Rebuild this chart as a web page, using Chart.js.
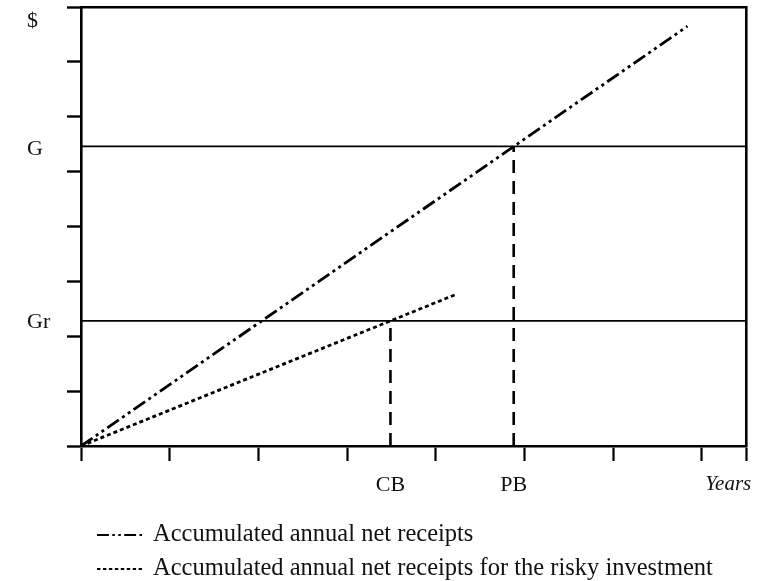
<!DOCTYPE html>
<html>
<head>
<meta charset="utf-8">
<script src="https://cdn.jsdelivr.net/npm/chart.js@4/dist/chart.umd.min.js"></script>
<style>
  html, body { margin: 0; padding: 0; background: #fff; }
  #wrap { width: 760px; height: 581px; }
</style>
</head>
<body>
<div id="wrap"><canvas id="c" width="760" height="581"></canvas></div>
<script>
// ---- data ----
const mainYears = [0, 6.84];            // accumulated annual net receipts
const mainReceipts = [0, 7.65];
const riskyYears = [0, 4.24];           // risky investment
const riskyReceipts = [0, 2.77];
const levelNames = ['G', 'Gr'];         // horizontal goal levels
const levelValues = [5.46, 2.28];
const breakNames = ['CB', 'PB'];        // break-even years
const breakYears = [3.49, 4.88];
const breakLevels = ['Gr', 'G'];
const xTickValues = [0, 1, 2, 3, 4, 5, 6, 7, 7.5];
const yTickValues = [0, 1, 2, 3, 4, 5, 6, 7, 8];
const xLabelValues = [3.49, 4.88, 7.30];
const xLabelTexts = ['CB', 'PB', 'Years'];
const yLabelValues = [7.75, 5.41, 2.26];
const yLabelTexts = ['$', 'G', 'Gr'];
const legendTexts = ['Accumulated annual net receipts',
                     'Accumulated annual net receipts for the risky investment'];

const X_MAX = 7.5, Y_MAX = 8;
const PAD_LEFT = 27;
const near = (a, b) => Math.abs(a - b) < 1e-6;
const labelFor = (vals, texts, v) => {
  for (let i = 0; i < vals.length; i++) if (near(vals[i], v)) return texts[i];
  return '';
};
const isLabelTick = (vals, v) => vals.some(t => near(t, v));

const SERIF = '"Liberation Serif", "Times New Roman", serif';

const toPts = (xs, ys) => xs.map((x, i) => ({ x: x, y: ys[i] }));

const datasets = [
  {
    label: legendTexts[0],
    data: toPts(mainYears, mainReceipts),
    borderColor: '#000', borderWidth: 2.8,
    borderDash: [14, 4, 3, 4, 3, 4], legend: true
  },
  {
    label: legendTexts[1],
    data: toPts(riskyYears, riskyReceipts),
    borderColor: '#000', borderWidth: 2.8,
    borderDash: [4, 3], legend: true
  }
];
levelValues.forEach((v, i) => datasets.push({
  label: levelNames[i],
  data: [{ x: 0, y: v }, { x: X_MAX, y: v }],
  borderColor: '#000', borderWidth: 1.7, borderDash: []
}));
breakYears.forEach((v, i) => datasets.push({
  label: breakNames[i],
  data: [{ x: v, y: 0 }, { x: v, y: levelValues[levelNames.indexOf(breakLevels[i])] }],
  borderColor: '#000', borderWidth: 2.6, borderDash: [13, 8]
}));
datasets.forEach(d => {
  d.pointRadius = 0; d.pointHoverRadius = 0; d.fill = false;
  d.tension = 0; d.clip = false; d.borderCapStyle = 'butt';
});

const legendPlugin = {
  id: 'customLegend',
  afterDraw(chart) {
    const ctx = chart.ctx;
    const items = chart.data.datasets.filter(d => d.legend);
    const rowsY = [535, 569];
    ctx.save();
    items.forEach((d, i) => {
      const y = rowsY[i];
      ctx.beginPath();
      ctx.setLineDash(d.borderDash.map(n => n * 0.85));
      ctx.lineWidth = 2;
      ctx.strokeStyle = '#000';
      ctx.moveTo(97, y);
      ctx.lineTo(142, y);
      ctx.stroke();
      ctx.setLineDash([]);
      ctx.fillStyle = '#111';
      ctx.font = '24.5px ' + SERIF;
      ctx.textBaseline = 'middle';
      ctx.textAlign = 'left';
      ctx.fillText(d.label, 153, y);
    });
    ctx.restore();
  }
};

new Chart(document.getElementById('c'), {
  type: 'line',
  data: { datasets: datasets },
  plugins: [legendPlugin],
  options: {
    responsive: false,
    animation: false,
    devicePixelRatio: 1,
    layout: { padding: { left: PAD_LEFT, top: 0, right: 0, bottom: 0 } },
    plugins: { legend: { display: false }, tooltip: { enabled: false } },
    scales: {
      x: {
        type: 'linear', position: 'bottom', min: 0, max: X_MAX,
        afterBuildTicks: s => {
          s.ticks = xTickValues.concat(xLabelValues).sort((a, b) => a - b).map(v => ({ value: v }));
        },
        afterFit: s => { s.height = 135; s.paddingLeft = 0; s.paddingRight = 0; },
        ticks: {
          autoSkip: false, maxRotation: 0, minRotation: 0, padding: 11, color: '#111',
          callback: v => labelFor(xLabelValues, xLabelTexts, v),
          font: c => (c.tick && c.tick.label === 'Years')
            ? { family: SERIF, size: 21, style: 'italic' }
            : { family: SERIF, size: 22, style: 'normal' }
        },
        grid: {
          drawOnChartArea: false, drawTicks: true, tickLength: 15,
          tickWidth: 2.2,
          tickColor: c => (c.tick && isLabelTick(xLabelValues, c.tick.value)) ? 'rgba(0,0,0,0)' : '#000'
        },
        border: { display: true, color: '#000', width: 2.6 }
      },
      y: {
        type: 'linear', position: 'left', min: 0, max: Y_MAX,
        afterBuildTicks: s => {
          s.ticks = yTickValues.concat(yLabelValues).sort((a, b) => a - b).map(v => ({ value: v }));
        },
        afterFit: s => { s.width = 81 - PAD_LEFT; s.paddingTop = 0; s.paddingBottom = 0; },
        ticks: {
          autoSkip: false, crossAlign: 'far', color: '#111',
          callback: v => labelFor(yLabelValues, yLabelTexts, v),
          font: { family: SERIF, size: 22 }
        },
        grid: {
          drawOnChartArea: false, drawTicks: true, tickLength: 14,
          tickWidth: 2.4,
          tickColor: c => (c.tick && isLabelTick(yLabelValues, c.tick.value)) ? 'rgba(0,0,0,0)' : '#000'
        },
        border: { display: true, color: '#000', width: 2.6 }
      },
      x2: {
        type: 'linear', position: 'top', min: 0, max: 1,
        afterFit: s => { s.height = 7; },
        ticks: { display: false },
        grid: { drawOnChartArea: false, drawTicks: false },
        border: { display: true, color: '#000', width: 2.4 }
      },
      y2: {
        type: 'linear', position: 'right', min: 0, max: 1,
        afterFit: s => { s.width = 14; },
        ticks: { display: false },
        grid: { drawOnChartArea: false, drawTicks: false },
        border: { display: true, color: '#000', width: 2.6 }
      }
    }
  }
});
</script>
</body>
</html>
